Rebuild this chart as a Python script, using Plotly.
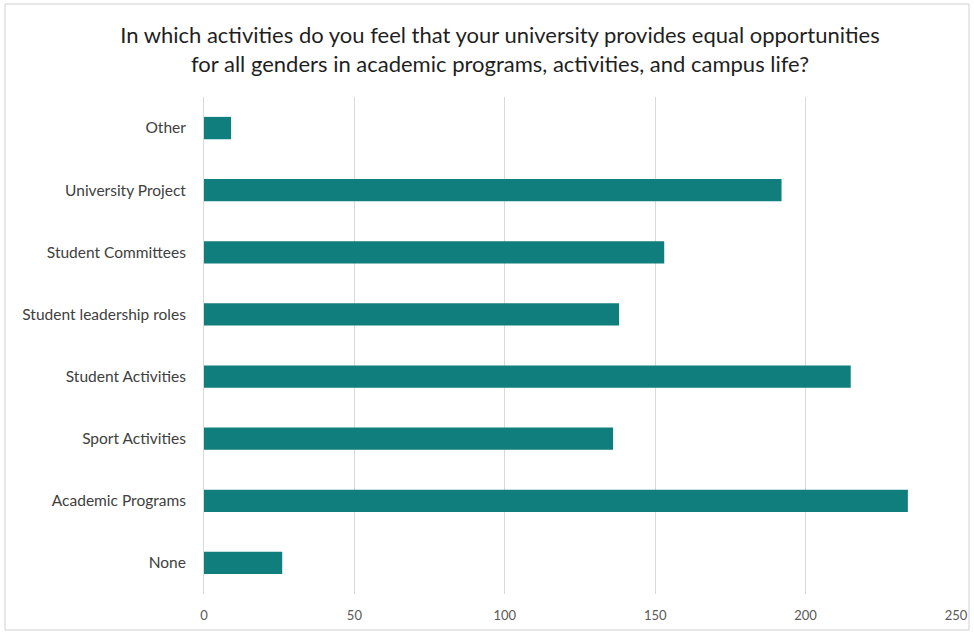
import plotly.graph_objects as go

# Survey responses per activity (bottom to top on the chart)
categories = [
    "None",
    "Academic Programs",
    "Sport Activities",
    "Student Activities",
    "Student leadership roles",
    "Student Committees",
    "University Project",
    "Other",
]
counts = [26, 234, 136, 215, 138, 153, 192, 9]
x_ticks = [0, 50, 100, 150, 200, 250]

title_text = ("In which activities do you feel that your university provides equal opportunities<br>"
              "for all genders in academic programs, activities, and campus life?")

W, H = 974, 635
L, R, T, B = 204, 18, 97, 41
pw, ph = W - L - R, H - T - B

def px_x(p):
    return (p - L) / pw

def px_y(p):
    return (H - B - p) / ph

fig = go.Figure(
    go.Bar(
        x=counts,
        y=categories,
        orientation="h",
        marker=dict(color="#0F7E7C", line=dict(width=0)),
        width=0.36,
    )
)

fig.update_layout(
    width=W,
    height=H,
    margin=dict(l=L, r=R, t=T, b=B, autoexpand=False),
    paper_bgcolor="white",
    plot_bgcolor="white",
    showlegend=False,
    font=dict(family="Lato, sans-serif", color="#595959"),
    title=dict(
        text=title_text,
        xref="container",
        x=500 / W,
        xanchor="center",
        yref="container",
        y=1 - 43 / H,
        yanchor="middle",
        font=dict(family="Lato, sans-serif", size=22, color="#1f1f1f"),
    ),
    xaxis=dict(
        range=[0, 250],
        tickvals=x_ticks,
        showgrid=True,
        gridcolor="#D9D9D9",
        gridwidth=1,
        zeroline=False,
        showline=False,
        ticks="",
        automargin=False,
        tickfont=dict(size=13, color="#595959"),
        ticklabelstandoff=12,
        fixedrange=True,
    ),
    yaxis=dict(
        range=[-0.5, 7.5],
        showgrid=False,
        showline=True,
        linecolor="#D9D9D9",
        linewidth=1,
        ticks="",
        automargin=False,
        tickfont=dict(size=15.5, color="#404040"),
        ticklabelstandoff=14,
        fixedrange=True,
    ),
    shapes=[
        dict(
            type="rect",
            xref="paper",
            yref="paper",
            x0=px_x(5),
            x1=px_x(969),
            y0=px_y(630),
            y1=px_y(4),
            line=dict(color="#D0D0D0", width=1),
            fillcolor="rgba(0,0,0,0)",
            layer="below",
        )
    ],
)

fig.write_html("out.html")
